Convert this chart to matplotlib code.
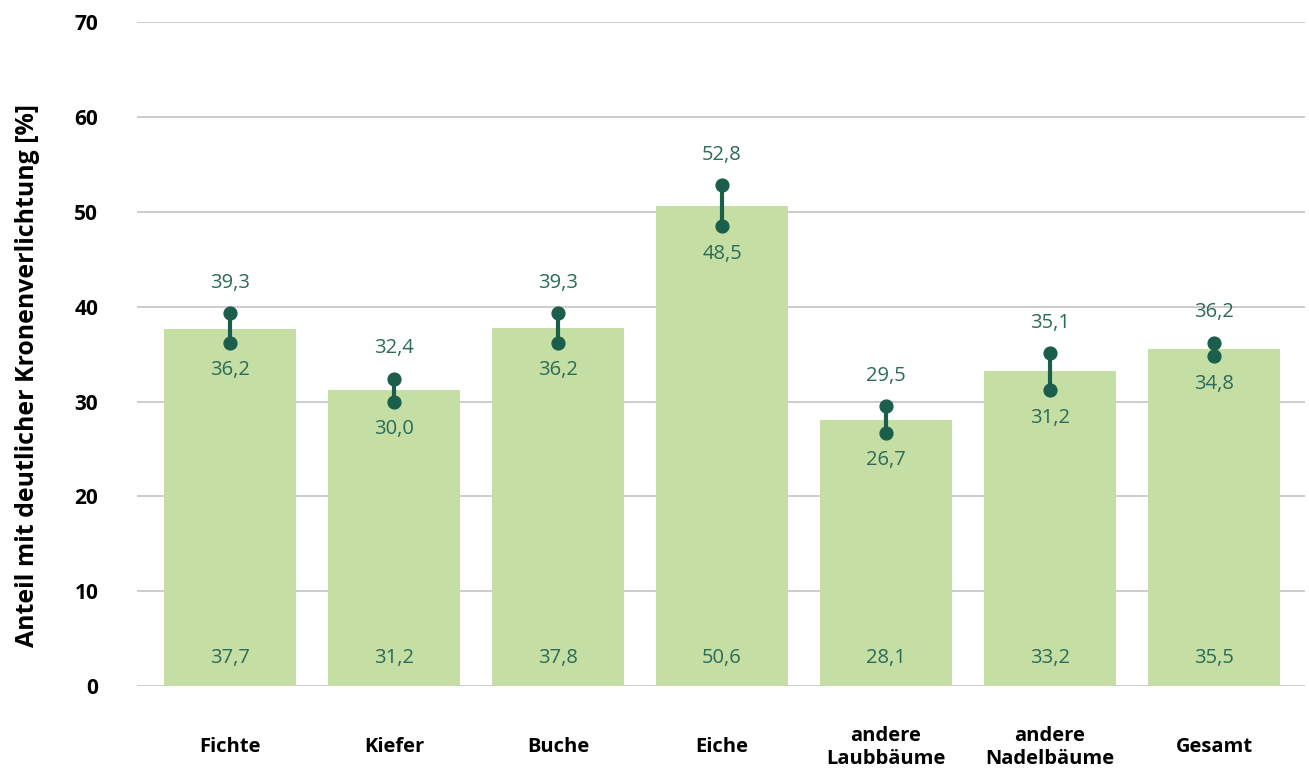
import numpy as np
import matplotlib
matplotlib.use("Agg")
import matplotlib.pyplot as plt

plt.rcParams['font.family'] = ['Open Sans', 'DejaVu Sans']

# Daten
kategorien = ["Fichte", "Kiefer", "Buche", "Eiche", "andere\nLaubbäume", "andere\nNadelbäume", "Gesamt"]
werte = [37.7, 31.2, 37.8, 50.6, 28.1, 33.2, 35.5]
untere = [36.2, 30.0, 36.2, 48.5, 26.7, 31.2, 34.8]
obere = [39.3, 32.4, 39.3, 52.8, 29.5, 35.1, 36.2]
y_ticks = [0, 10, 20, 30, 40, 50, 60, 70]

bar_col = '#c4dea4'
dunkel = '#1b5e4b'
text_col = '#2b6b58'


def fmt(v):
    return f"{v:.1f}".replace('.', ',')


fig = plt.figure(figsize=(13.09, 7.69), dpi=100)
ax = fig.add_axes([0.1047, 0.108, 0.8923, 0.863])

x = np.arange(len(kategorien))
ax.bar(x, werte, width=0.8, color=bar_col, zorder=2)

# Konfidenzintervalle
ax.vlines(x, untere, obere, color=dunkel, lw=3, zorder=3)
ax.scatter(x, untere, s=85, color=dunkel, zorder=4)
ax.scatter(x, obere, s=85, color=dunkel, zorder=4)

for xi, w, lo, hi in zip(x, werte, untere, obere):
    ax.text(xi, 3.0, fmt(w), ha='center', va='center', fontsize=14.5, color=text_col, zorder=5)
    ax.text(xi, hi + 3.2, fmt(hi), ha='center', va='center', fontsize=14.5, color=text_col, zorder=5)
    ax.text(xi, lo - 2.9, fmt(lo), ha='center', va='center', fontsize=14.5, color=text_col, zorder=5)

ax.set_xlim(-0.567, 6.555)
ax.set_ylim(0, 70)
ax.set_yticks(y_ticks)
ax.set_yticklabels([str(t) for t in y_ticks], fontsize=15, fontweight='bold')
ax.set_xticks(x)
ax.set_xticklabels(kategorien, fontsize=14.5, fontweight='bold', linespacing=1.2)
ax.tick_params(axis='both', length=0)
ax.tick_params(axis='y', pad=28)
ax.tick_params(axis='x', pad=44)
for lbl in ax.get_xticklabels():
    lbl.set_verticalalignment('center')

ax.grid(axis='y', color='#c8c8c8', lw=1.3, zorder=0)
for s in ax.spines.values():
    s.set_visible(False)

ax.set_ylabel("Anteil mit deutlicher Kronenverlichtung [%]", fontsize=17.9, fontweight='bold')
ax.yaxis.set_label_coords(-0.083, 0.468)

fig.savefig("out.png", dpi=100)
